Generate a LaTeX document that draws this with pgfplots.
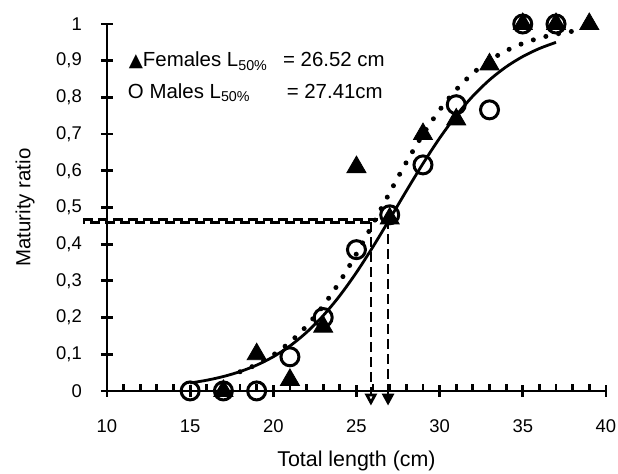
\documentclass[border=0pt]{standalone}
\usepackage{fontspec}
\setmainfont{Liberation Sans}
\newfontfamily\symfont{DejaVu Sans}
\usepackage{pgfplots}
\pgfplotsset{compat=1.18}
\usetikzlibrary{arrows.meta}
\newcommand{\tickfont}{\fontsize{18.5}{20}\selectfont}
\newcommand{\legfont}{\fontsize{20.5}{22}\selectfont}
\begin{document}
\begin{tikzpicture}
\begin{axis}[
  scale only axis, width=499bp, height=367bp,
  xmin=10, xmax=40, ymin=0, ymax=1,
  axis x line=bottom, axis y line=left,
  axis line style={-, line width=2.8bp},
  xtick={10,15,20,25,30,35,40},
  xticklabels={10,15,20,25,30,35,40},
  ytick={0,0.1,0.2,0.3,0.4,0.5,0.6,0.7,0.8,0.9,1},
  yticklabels={0,{0,1},{0,2},{0,3},{0,4},{0,5},{0,6},{0,7},{0,8},{0,9},1},
  minor x tick num=4,
  tick align=center,
  major tick length=12bp,
  minor tick length=6.5bp,
  tick style={black, line width=2.8bp},
  minor tick style={yshift=3.25bp},
  xticklabel style={font=\tickfont, anchor=north, inner sep=0pt, yshift=-23bp},
  yticklabel style={font=\tickfont, anchor=east, inner sep=0pt, xshift=-19bp},
  xlabel={Total length (cm)},
  ylabel={Maturity ratio},
  xlabel style={font=\fontsize{21.5}{23}\selectfont, at={(axis description cs:0.5,0)}, anchor=north, inner sep=0pt, yshift=-60bp},
  ylabel style={font=\fontsize{20.5}{22}\selectfont, at={(axis description cs:0,0.5)}, anchor=center, inner sep=0pt, yshift=82bp},
  clip=false,
]
% reading lines at L50
\addplot[line width=2.8bp, dash pattern=on 10bp off 5bp] coordinates {(8.55,0.468) (26.9,0.468)};
\addplot[line width=2.8bp, dash pattern=on 10bp off 5bp, dash phase=7.5bp] coordinates {(8.55,0.460) (25.87,0.460)};
\addplot[line width=2.8bp, dash pattern=on 10bp off 5bp, -{Triangle[open, fill=white, width=12bp, length=12bp]}] coordinates {(25.87,0.46) (25.87,-0.04)};
\addplot[line width=2.8bp, dash pattern=on 10bp off 5bp, -{Triangle[width=12bp, length=12bp]}] coordinates {(26.9,0.468) (26.9,-0.04)};
% fitted curves
\addplot[smooth, line width=2.8bp] coordinates {
  (15,0.0217) (16,0.0292) (17,0.0393) (18,0.0527) (19,0.0703) (20,0.0932)
  (21,0.1226) (22,0.1597) (23,0.2052) (24,0.2598) (25,0.3230) (26,0.3934)
  (27,0.4686) (28,0.5451) (29,0.6196) (30,0.6889) (31,0.7506) (32,0.8036)
  (33,0.8476) (34,0.8832) (35,0.9113) (36,0.9332) (37,0.9500)};
\addplot[smooth, line width=5bp, line cap=round, dash pattern=on 0bp off 13bp] coordinates {
  (18,0.0523) (19,0.0720) (20,0.0982) (21,0.1327) (22,0.1769) (23,0.2320)
  (24,0.2980) (25,0.3736) (26,0.4558) (27,0.5406) (28,0.6232) (29,0.6991)
  (30,0.7655) (31,0.8210) (32,0.8657) (33,0.9005) (34,0.9271) (35,0.9470)
  (36,0.9617) (37,0.9724) (38,0.9802)};
% females
\addplot[only marks, mark=triangle*, mark size=11bp, mark options={fill=black, draw=black, line width=0.8bp}] coordinates {
  (17,0) (19,0.10) (21,0.03) (23,0.175) (25,0.61) (27,0.47) (29,0.70) (31,0.74) (33,0.89) (35,1) (37,1) (39,1)};
% males
\addplot[only marks, mark=o, mark size=9bp, mark options={line width=3bp, draw=black, fill=none}] coordinates {
  (15,0) (17,0) (19,0) (21,0.093) (23,0.20) (25,0.385) (27,0.48) (29,0.616) (31,0.78) (33,0.766) (35,1) (37,1)};
\node[anchor=base west, inner sep=0pt, font=\legfont] at (axis cs:11.3,0.883) {{\symfont\tickfont ▲}Females L\textsubscript{50\%}};
\node[anchor=base west, inner sep=0pt, font=\legfont] at (axis cs:20.58,0.883) {= 26.52 cm};
\node[anchor=base west, inner sep=0pt, font=\legfont] at (axis cs:11.25,0.798) {O Males L\textsubscript{50\%}};
\node[anchor=base west, inner sep=0pt, font=\legfont] at (axis cs:20.8,0.798) {= 27.41cm};
\coordinate (bl) at (axis cs:3.566,-0.2262);
\coordinate (tr) at (axis cs:40.727,1.0654);
\end{axis}
\pgfresetboundingbox
\path[use as bounding box] (bl) rectangle (tr);
\end{tikzpicture}
\end{document}
